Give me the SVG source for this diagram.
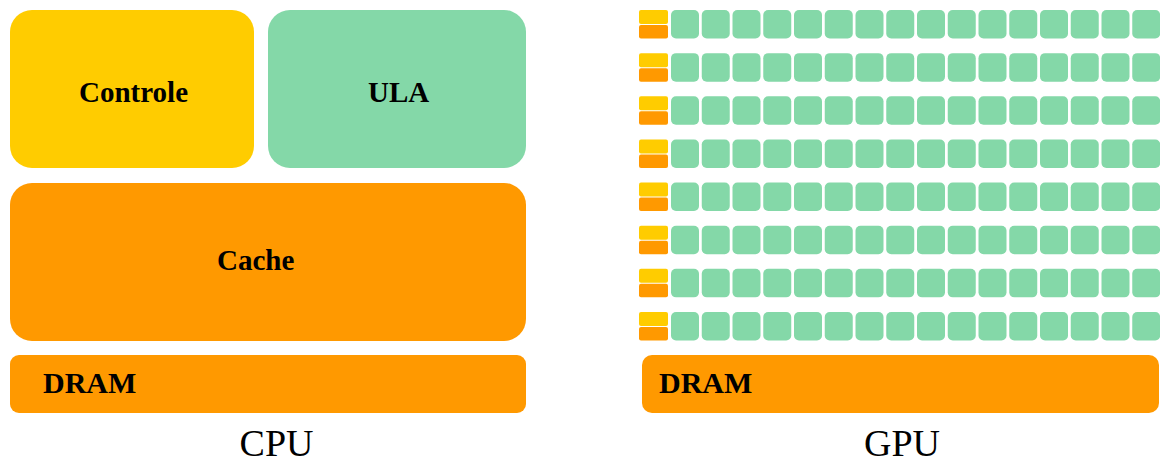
<svg xmlns="http://www.w3.org/2000/svg" xmlns:xlink="http://www.w3.org/1999/xlink" width="1160" height="463" viewBox="0 0 1160 463">
<style>
.y{fill:#FFCC00}
.g{fill:#84D8A8}
.o{fill:#FF9900}
.lb{font-family:"Liberation Serif","Times New Roman",serif;font-weight:bold;font-size:29px;fill:#000}
.lr{font-family:"Liberation Serif","Times New Roman",serif;font-weight:bold;font-size:30px;fill:#000}
.cap{font-family:"Liberation Serif","Times New Roman",serif;font-size:38px;fill:#000;text-anchor:middle}
</style>
<defs>
<g id="row">
<rect class="y" x="639" y="0" width="29" height="14" rx="2"/>
<rect class="o" x="639" y="15" width="29" height="13.5" rx="2"/>
<rect class="g" x="671" y="0" width="28" height="28.5" rx="5"/>
<rect class="g" x="701.75" y="0" width="28" height="28.5" rx="5"/>
<rect class="g" x="732.5" y="0" width="28" height="28.5" rx="5"/>
<rect class="g" x="763.25" y="0" width="28" height="28.5" rx="5"/>
<rect class="g" x="794" y="0" width="28" height="28.5" rx="5"/>
<rect class="g" x="824.75" y="0" width="28" height="28.5" rx="5"/>
<rect class="g" x="855.5" y="0" width="28" height="28.5" rx="5"/>
<rect class="g" x="886.25" y="0" width="28" height="28.5" rx="5"/>
<rect class="g" x="917" y="0" width="28" height="28.5" rx="5"/>
<rect class="g" x="947.75" y="0" width="28" height="28.5" rx="5"/>
<rect class="g" x="978.5" y="0" width="28" height="28.5" rx="5"/>
<rect class="g" x="1009.25" y="0" width="28" height="28.5" rx="5"/>
<rect class="g" x="1040" y="0" width="28" height="28.5" rx="5"/>
<rect class="g" x="1070.75" y="0" width="28" height="28.5" rx="5"/>
<rect class="g" x="1101.5" y="0" width="28" height="28.5" rx="5"/>
<rect class="g" x="1132.25" y="0" width="28" height="28.5" rx="5"/>
</g>
</defs>
<g id="cpu">
<g id="controle"><rect class="y" x="10" y="10" width="244" height="158" rx="22"/><text class="lb" x="79" y="102">Controle</text></g>
<g id="ula"><rect class="g" x="268" y="10" width="258" height="158" rx="22"/><text class="lb" x="368" y="102">ULA</text></g>
<g id="cache"><rect class="o" x="10" y="183" width="516" height="158" rx="22"/><text class="lb" x="217" y="270">Cache</text></g>
<g id="cpu-dram"><rect class="o" x="10" y="355" width="516" height="58" rx="9"/><text class="lr" x="43" y="393">DRAM</text></g>
<text id="cpu-label" class="cap" x="276.5" y="456">CPU</text>
</g>
<g id="gpu">
<g id="gpu-row1"><use xlink:href="#row" href="#row" y="10"/></g>
<g id="gpu-row2"><use xlink:href="#row" href="#row" y="53.14"/></g>
<g id="gpu-row3"><use xlink:href="#row" href="#row" y="96.28"/></g>
<g id="gpu-row4"><use xlink:href="#row" href="#row" y="139.42"/></g>
<g id="gpu-row5"><use xlink:href="#row" href="#row" y="182.56"/></g>
<g id="gpu-row6"><use xlink:href="#row" href="#row" y="225.7"/></g>
<g id="gpu-row7"><use xlink:href="#row" href="#row" y="268.84"/></g>
<g id="gpu-row8"><use xlink:href="#row" href="#row" y="312"/></g>
<g id="gpu-dram"><rect class="o" x="642" y="355" width="517" height="58" rx="10"/><text class="lr" x="659" y="393">DRAM</text></g>
<text id="gpu-label" class="cap" x="902" y="456">GPU</text>
</g>
<g id="connectors"/>
</svg>
